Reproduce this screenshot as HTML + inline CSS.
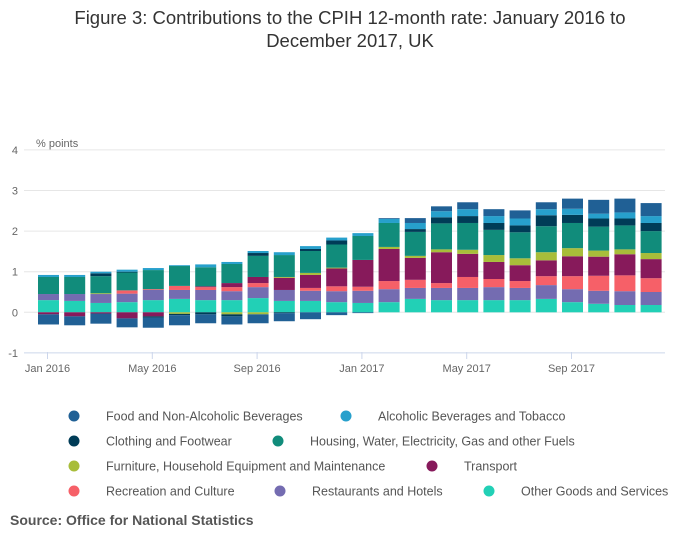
<!DOCTYPE html>
<html><head><meta charset="utf-8"><style>
body{margin:0;background:#fff;font-family:"Liberation Sans",sans-serif;}
#wrap{position:relative;width:700px;height:549px;overflow:hidden;}
.title{position:absolute;left:0;width:700px;top:6px;text-align:center;font-size:18.5px;color:#333;line-height:23px;}
.src{position:absolute;left:10px;top:512px;font-size:14px;font-weight:bold;color:#555;}
</style></head><body>
<div id="wrap">
<div class="title">Figure 3: Contributions to the CPIH 12-month rate: January 2016 to<br>December 2017, UK</div>
<svg id="chart" width="700" height="549" style="position:absolute;left:0;top:0"></svg>
<div class="src">Source: Office for National Statistics</div>
</div>
<script>
const months=["Jan 2016","Feb 2016","Mar 2016","Apr 2016","May 2016","Jun 2016","Jul 2016","Aug 2016","Sep 2016","Oct 2016","Nov 2016","Dec 2016","Jan 2017","Feb 2017","Mar 2017","Apr 2017","May 2017","Jun 2017","Jul 2017","Aug 2017","Sep 2017","Oct 2017","Nov 2017","Dec 2017"];
const tickLabels=["Jan 2016","May 2016","Sep 2016","Jan 2017","May 2017","Sep 2017"];
const yTicks=[-1,0,1,2,3,4];
const seriesNames=["Food and Non-Alcoholic Beverages","Alcoholic Beverages and Tobacco","Clothing and Footwear","Housing, Water, Electricity, Gas and other Fuels","Furniture, Household Equipment and Maintenance","Transport","Recreation and Culture","Restaurants and Hotels","Other Goods and Services"];
const colors=["#206095","#27a0cc","#003c57","#118c7b","#a8bd3a","#871a5b","#f66068","#746cb1","#22d0b6"];
const food=[-0.25,-0.22,-0.25,-0.22,-0.25,-0.25,-0.22,-0.20,-0.22,-0.20,-0.17,-0.07,-0.02,0.02,0.12,0.12,0.17,0.17,0.20,0.17,0.25,0.34,0.34,0.32];
const alcohol=[0.05,0.05,0.04,0.05,0.05,0.02,0.07,0.05,0.05,0.07,0.07,0.07,0.07,0.10,0.15,0.15,0.17,0.17,0.17,0.15,0.15,0.12,0.15,0.17];
const clothing=[0,0,0.07,0.02,-0.03,-0.03,-0.05,-0.05,0.07,-0.02,0.05,0.10,0,0,0.07,0.15,0.17,0.17,0.17,0.27,0.20,0.20,0.17,0.20];
const housing=[0.42,0.42,0.42,0.44,0.47,0.49,0.47,0.47,0.52,0.54,0.54,0.57,0.59,0.59,0.59,0.64,0.66,0.62,0.64,0.64,0.62,0.59,0.59,0.54];
const furniture=[0,0,0.02,0,0,-0.04,0,-0.05,-0.05,0.02,0.05,0.02,0,0.05,0.05,0.07,0.10,0.17,0.17,0.20,0.20,0.15,0.12,0.15];
const transport=[-0.05,-0.10,-0.03,-0.15,-0.10,0,0.02,0.10,0.15,0.30,0.32,0.44,0.66,0.79,0.54,0.76,0.57,0.42,0.39,0.39,0.49,0.47,0.52,0.47];
const recreation=[0,0,0,0.08,0.02,0.10,0.07,0.10,0.10,0,0.07,0.12,0.10,0.20,0.20,0.12,0.27,0.20,0.17,0.22,0.32,0.37,0.39,0.34];
const restaurants=[0.15,0.17,0.22,0.21,0.25,0.22,0.25,0.22,0.27,0.27,0.25,0.27,0.30,0.32,0.27,0.30,0.30,0.32,0.30,0.34,0.32,0.32,0.34,0.32];
const other=[0.30,0.28,0.23,0.25,0.30,0.33,0.30,0.30,0.35,0.28,0.28,0.25,0.23,0.25,0.33,0.30,0.30,0.30,0.30,0.33,0.25,0.21,0.18,0.18];
const series=[food,alcohol,clothing,housing,furniture,transport,recreation,restaurants,other];

const NS="http://www.w3.org/2000/svg";
const svg=document.getElementById('chart');
const plotL=24,plotR=665,y0=312.3,unit=40.6,x0=48.5,step=26.2,bw=21;
const yS=v=>y0-v*unit;
const xS=i=>x0+i*step;
function mk(tag,attrs,parent){const e=document.createElementNS(NS,tag);for(const k in attrs)e.setAttribute(k,attrs[k]);(parent||svg).appendChild(e);return e;}
yTicks.forEach(t=>{
  const g=mk('line',{x1:plotL,x2:plotR,y1:yS(t),y2:yS(t),stroke:t===-1?'#ccd6eb':'#e6e6e6','stroke-width':1});
  
  
  const l=mk('text',{x:18,y:yS(t)+4,'text-anchor':'end','font-size':11,fill:'#666','font-family':'Liberation Sans, sans-serif'});
  l.textContent=t;
  
  
});
const yt=mk('text',{x:36,y:147,'font-size':11,fill:'#666','font-family':'Liberation Sans, sans-serif'});
yt.textContent='% points';


months.forEach((m,i)=>{
  let pos=0,neg=0;
  for(let s=series.length-1;s>=0;s--){
    const v=series[s][i];if(!v)continue;
    let top,bot;
    if(v>0){bot=pos;pos+=v;top=pos;}else{top=neg;neg+=v;bot=neg;}
    const r=mk('rect',{x:xS(i)-bw/2,y:yS(top),width:bw,height:(top-bot)*unit,fill:colors[s]});
    
    
  }
  if(tickLabels.includes(m)){
    const tk=mk('line',{x1:xS(i)-1,x2:xS(i)-1,y1:352,y2:359,stroke:'#ccd6eb'});
    
    
    const tl=mk('text',{x:xS(i)-1,y:372,'text-anchor':'middle','font-size':11,fill:'#666','font-family':'Liberation Sans, sans-serif'});
    tl.textContent=m;
    
    
  }
});
const legPos=[[74,416],[346,416],[74,441],[278,441],[74,466],[432,466],[74,491],[280,491],[489,491]];
seriesNames.forEach((n,s)=>{
  const [lx,ly]=legPos[s];
  const c=mk('circle',{cx:lx,cy:ly,r:5.5,fill:colors[s]});
  
  
  const t=mk('text',{x:lx+32,y:ly+4.5,'font-size':12.5,fill:'#555','font-family':'Liberation Sans, sans-serif'});
  t.textContent=n;
  
  
});
</script>
</body></html>
